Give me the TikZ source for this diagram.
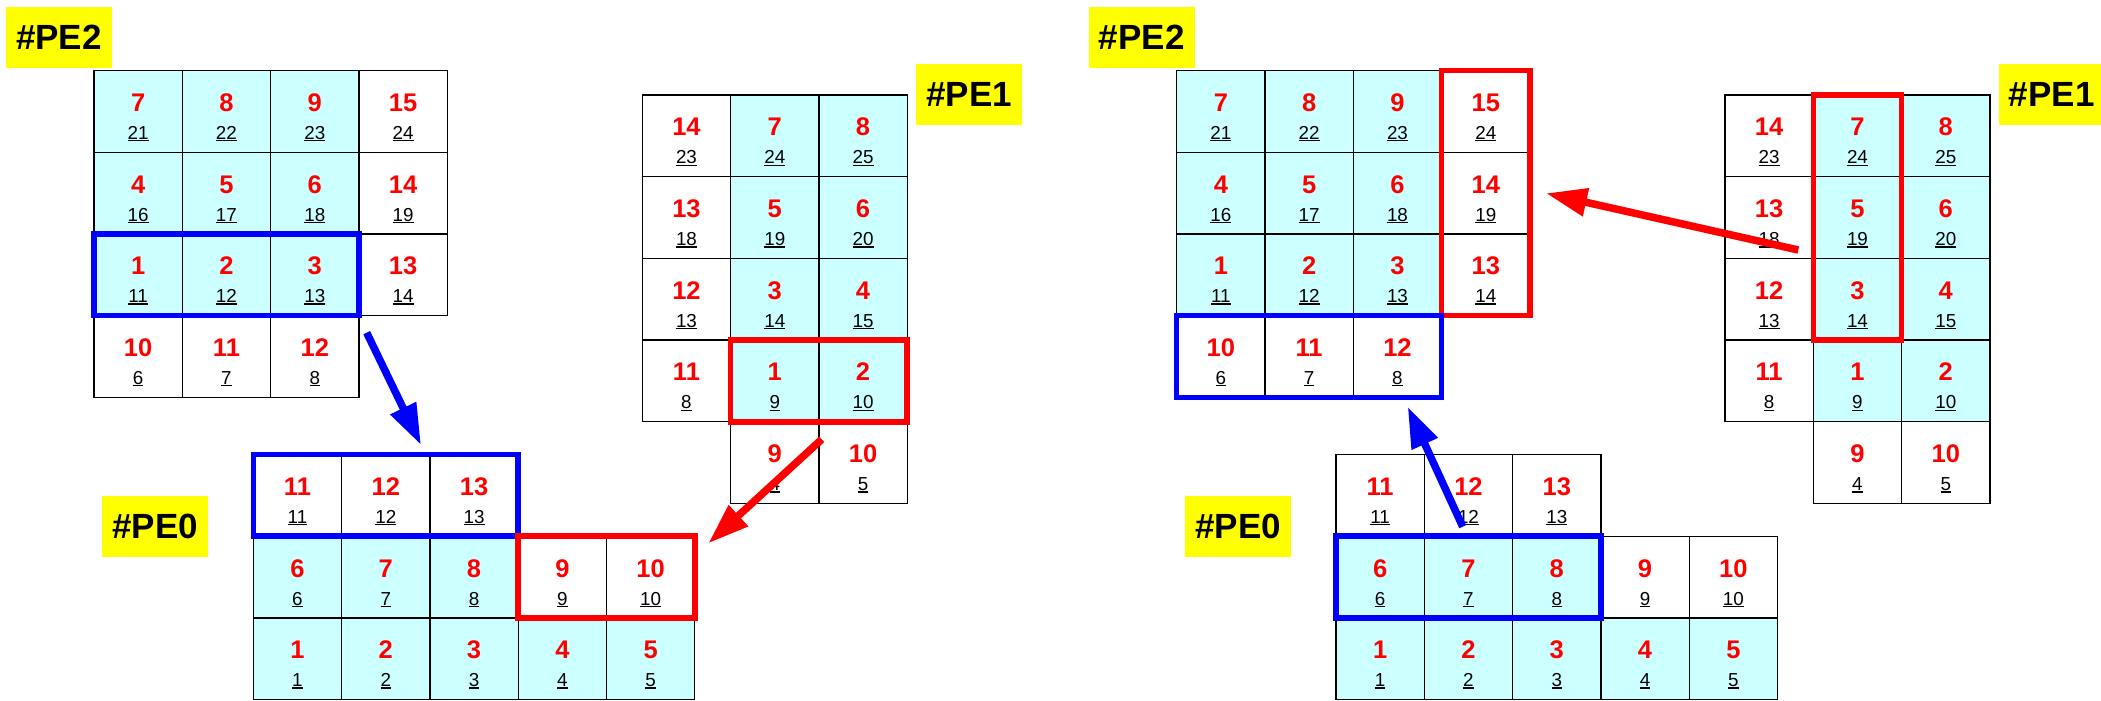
\documentclass[tikz,border=0pt]{standalone}
\usepackage{fontspec}
\setmainfont{Liberation Sans}
\usetikzlibrary{arrows.meta}
\definecolor{cellcyan}{HTML}{CCFFFF}
\definecolor{pered}{HTML}{FF0000}
\definecolor{peblue}{HTML}{0000FF}
\definecolor{peyellow}{HTML}{FFFF00}
\newcommand\ulnum[1]{\setbox0=\hbox{#1}\rlap{\rule[-2pt]{\wd0}{1.3pt}}\box0}
\tikzset{
  cellbox/.style={draw=black, line width=1.3pt, anchor=north west, minimum width=88.3pt, minimum height=81.7pt, inner sep=0pt, outer sep=0pt},
  bignum/.style={anchor=base, inner sep=0pt, text=pered, font=\fontsize{25.5}{26}\selectfont\bfseries},
  smallnum/.style={anchor=base, inner sep=0pt, text=black, font=\fontsize{18.8}{19}\selectfont},
  pelabel/.style={fill=peyellow, minimum width=106pt, minimum height=61pt, inner sep=0pt, text=black, font=\fontsize{35}{36}\selectfont\bfseries},
  redbox/.style={draw=pered, line width=5.5pt},
  bluebox/.style={draw=peblue, line width=5.5pt},
  redarrow/.style={draw=pered, line width=7.5pt, -{Triangle[length=41pt,width=27pt]}},
  bluearrow/.style={draw=peblue, line width=7.5pt, -{Triangle[length=41pt,width=27pt]}},
}
\newcommand\mkcell[6]{%
  \node[cellbox,fill=#4] (#1) at ({(#2-1)*88.3},{(#3-1)*81.7}) {};
  \node[bignum] (#1b) at ([yshift=-40.8pt]#1.north) {#5};
  \node[smallnum] (#1s) at ([yshift=-68.8pt]#1.north) {\ulnum{#6}};
}
\newcommand\pegroup[2]{%
  \begin{scope}[shift={({#2+94},70.5)}]
    \mkcell{#1P2-1-1}{1}{1}{cellcyan}{7}{21}
    \mkcell{#1P2-2-1}{2}{1}{cellcyan}{8}{22}
    \mkcell{#1P2-3-1}{3}{1}{cellcyan}{9}{23}
    \mkcell{#1P2-4-1}{4}{1}{white}{15}{24}
    \mkcell{#1P2-1-2}{1}{2}{cellcyan}{4}{16}
    \mkcell{#1P2-2-2}{2}{2}{cellcyan}{5}{17}
    \mkcell{#1P2-3-2}{3}{2}{cellcyan}{6}{18}
    \mkcell{#1P2-4-2}{4}{2}{white}{14}{19}
    \mkcell{#1P2-1-3}{1}{3}{cellcyan}{1}{11}
    \mkcell{#1P2-2-3}{2}{3}{cellcyan}{2}{12}
    \mkcell{#1P2-3-3}{3}{3}{cellcyan}{3}{13}
    \mkcell{#1P2-4-3}{4}{3}{white}{13}{14}
    \mkcell{#1P2-1-4}{1}{4}{white}{10}{6}
    \mkcell{#1P2-2-4}{2}{4}{white}{11}{7}
    \mkcell{#1P2-3-4}{3}{4}{white}{12}{8}
  \end{scope}
  \begin{scope}[shift={({#2+642.3},95)}]
    \mkcell{#1P1-1-1}{1}{1}{white}{14}{23}
    \mkcell{#1P1-2-1}{2}{1}{cellcyan}{7}{24}
    \mkcell{#1P1-3-1}{3}{1}{cellcyan}{8}{25}
    \mkcell{#1P1-1-2}{1}{2}{white}{13}{18}
    \mkcell{#1P1-2-2}{2}{2}{cellcyan}{5}{19}
    \mkcell{#1P1-3-2}{3}{2}{cellcyan}{6}{20}
    \mkcell{#1P1-1-3}{1}{3}{white}{12}{13}
    \mkcell{#1P1-2-3}{2}{3}{cellcyan}{3}{14}
    \mkcell{#1P1-3-3}{3}{3}{cellcyan}{4}{15}
    \mkcell{#1P1-1-4}{1}{4}{white}{11}{8}
    \mkcell{#1P1-2-4}{2}{4}{cellcyan}{1}{9}
    \mkcell{#1P1-3-4}{3}{4}{cellcyan}{2}{10}
    \mkcell{#1P1-2-5}{2}{5}{white}{9}{4}
    \mkcell{#1P1-3-5}{3}{5}{white}{10}{5}
  \end{scope}
  \begin{scope}[shift={({#2+253.3},454.5)}]
    \mkcell{#1P0-1-1}{1}{1}{white}{11}{11}
    \mkcell{#1P0-2-1}{2}{1}{white}{12}{12}
    \mkcell{#1P0-3-1}{3}{1}{white}{13}{13}
    \mkcell{#1P0-1-2}{1}{2}{cellcyan}{6}{6}
    \mkcell{#1P0-2-2}{2}{2}{cellcyan}{7}{7}
    \mkcell{#1P0-3-2}{3}{2}{cellcyan}{8}{8}
    \mkcell{#1P0-4-2}{4}{2}{white}{9}{9}
    \mkcell{#1P0-5-2}{5}{2}{white}{10}{10}
    \mkcell{#1P0-1-3}{1}{3}{cellcyan}{1}{1}
    \mkcell{#1P0-2-3}{2}{3}{cellcyan}{2}{2}
    \mkcell{#1P0-3-3}{3}{3}{cellcyan}{3}{3}
    \mkcell{#1P0-4-3}{4}{3}{cellcyan}{4}{4}
    \mkcell{#1P0-5-3}{5}{3}{cellcyan}{5}{5}
  \end{scope}
  \node[pelabel] (#1lab2) at ({#2+59},37.5) {\#PE2};
  \node[pelabel] (#1lab1) at ({#2+969},94.5) {\#PE1};
  \node[pelabel] (#1lab0) at ({#2+155.3},526.5) {\#PE0};
}
\begin{document}
\begin{tikzpicture}[x=1pt,y=-1pt]
\useasboundingbox (0,0) rectangle (2101,701);
\pegroup{L}{0}
\pegroup{R}{1082.7}
% left highlights
\draw[bluebox] (LP2-1-3.north west) rectangle (LP2-3-3.south east);
\draw[redbox] (LP1-2-4.north west) rectangle (LP1-3-4.south east);
\draw[bluebox] (LP0-1-1.north west) rectangle (LP0-3-1.south east);
\draw[redbox] (LP0-4-2.north west) rectangle (LP0-5-2.south east);
% right highlights
\draw[redbox] (RP2-4-1.north west) rectangle (RP2-4-3.south east);
\draw[bluebox] (RP2-1-4.north west) rectangle (RP2-3-4.south east);
\draw[redbox] (RP1-2-1.north west) rectangle (RP1-2-3.south east);
\draw[bluebox] (RP0-1-2.north west) rectangle (RP0-3-2.south east);
% arrows
\coordinate (a1s) at (366.7,332.7);
\coordinate (a1e) at (421,445);
\coordinate (a2s) at (821.7,439.3);
\coordinate (a2e) at (708.3,543.3);
\coordinate (a3s) at (1462.7,526.7);
\coordinate (a3e) at (1407.7,406.7);
\coordinate (a4s) at (1798.3,250);
\coordinate (a4e) at (1546,193.3);
\draw[bluearrow] (a1s) -- (a1e);
\draw[redarrow] (a2s) -- (a2e);
\draw[bluearrow] (a3s) -- (a3e);
\draw[redarrow] (a4s) -- (a4e);
\end{tikzpicture}
\end{document}
